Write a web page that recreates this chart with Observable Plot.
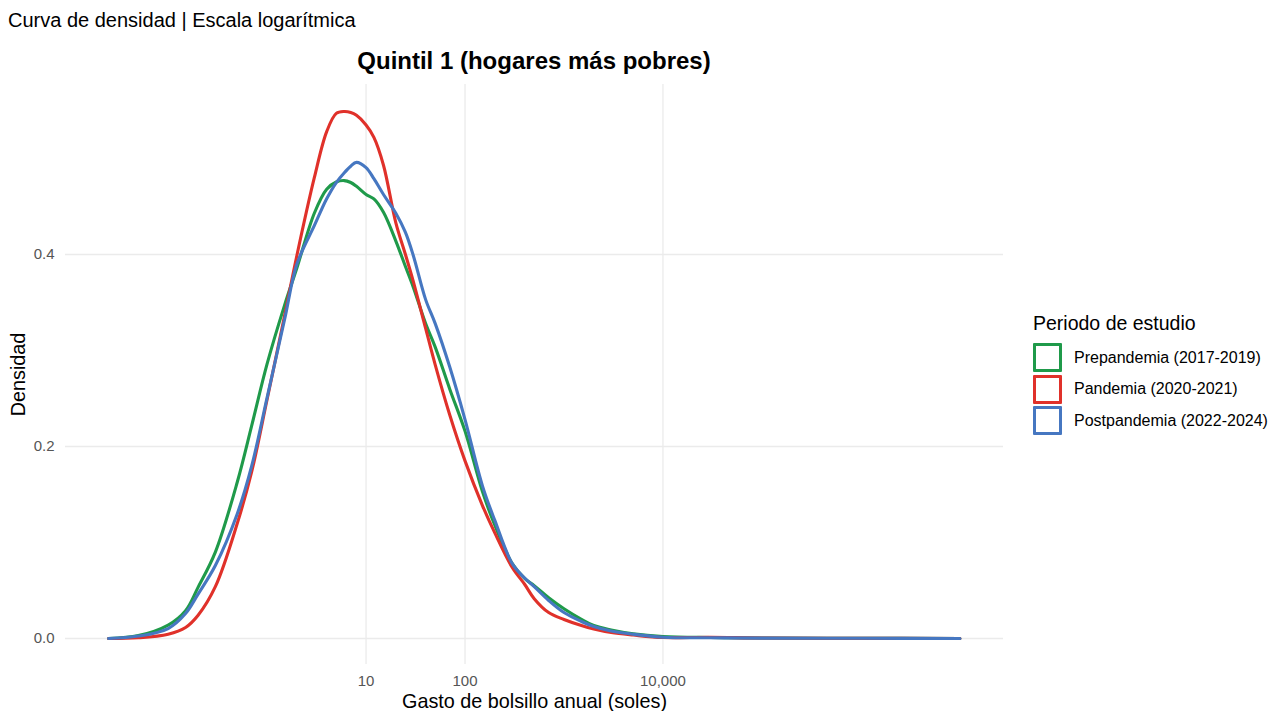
<!DOCTYPE html>
<html>
<head>
<meta charset="utf-8">
<script src="https://cdn.jsdelivr.net/npm/d3@7"></script>
<script src="https://cdn.jsdelivr.net/npm/@observablehq/plot@0.6"></script>
<style>
  html, body { margin: 0; padding: 0; background: #fff; }
  #wrap { position: relative; width: 1269px; height: 711px; font-family: "Liberation Sans", Arial, sans-serif; color: #000; }
  #sub { height: 40px; line-height: 40px; padding-left: 8px; font-size: 20px; }
  #title { height: 42px; line-height: 42px; margin-left: 65px; width: 938px; text-align: center; font-size: 24px; font-weight: bold; }
  #legend { position: absolute; left: 1033px; top: 311px; }
  #legend .lt { font-size: 19.5px; line-height: 24px; margin-bottom: 7px; }
  #legend .item { display: flex; align-items: center; height: 31.5px; }
  #legend .key { width: 23px; height: 23px; border: 3px solid; border-radius: 1px; margin-right: 12px; }
  #legend .lab { font-size: 16px; }
</style>
</head>
<body>
<div id="wrap">
  <div id="sub">Curva de densidad | Escala logarítmica</div>
  <div id="title">Quintil 1 (hogares más pobres)</div>
  <div id="chart"></div>
  <div id="legend"></div>
</div>
<script>
const periodos = ["Prepandemia (2017-2019)", "Pandemia (2020-2021)", "Postpandemia (2022-2024)"];
const colores = ["#1f9a4a", "#e0312a", "#4677c1"];
const xTicks = [10, 100, 10000];
const yTicks = [0, 0.2, 0.4];

// Gasto de bolsillo anual (soles)
const gasto = [0.025, 0.05, 0.1, 0.15, 0.2, 0.3, 0.5, 0.7, 1, 1.5, 2, 3, 4, 5, 6, 7, 8, 10, 12, 15, 20, 25, 30, 40, 50, 70, 100, 150, 200, 300, 400, 500, 700, 1000, 1500, 2000, 3000, 5000, 10000, 30000, 100000, 1000000, 10000000];

const densPre = [0, 0.003, 0.014, 0.029, 0.053, 0.090, 0.163, 0.222, 0.286, 0.347, 0.386, 0.443, 0.468, 0.4755, 0.477, 0.475, 0.471, 0.4625, 0.458, 0.444, 0.414, 0.3875, 0.366, 0.328, 0.3035, 0.260, 0.216, 0.153, 0.118, 0.078, 0.0625, 0.055, 0.0425, 0.031, 0.020, 0.0135, 0.0089, 0.0049, 0.0021, 0.0010, 0.0005, 0.0002, 0];
const densPan = [0, 0.0008, 0.0045, 0.0115, 0.024, 0.054, 0.120, 0.174, 0.249, 0.336, 0.399, 0.480, 0.528, 0.547, 0.549, 0.548, 0.545, 0.535, 0.522, 0.493, 0.433, 0.400, 0.372, 0.323, 0.285, 0.233, 0.185, 0.1385, 0.110, 0.074, 0.0565, 0.0415, 0.027, 0.0198, 0.0135, 0.0099, 0.0062, 0.0036, 0.0010, 0.0013, 0.0005, 0.0002, 0];
const densPost = [0, 0.0025, 0.0104, 0.026, 0.046, 0.076, 0.130, 0.180, 0.251, 0.332, 0.390, 0.430, 0.458, 0.475, 0.485, 0.492, 0.496, 0.4906, 0.479, 0.4625, 0.443, 0.423, 0.399, 0.353, 0.328, 0.283, 0.228, 0.159, 0.123, 0.078, 0.063, 0.054, 0.0396, 0.027, 0.0177, 0.0125, 0.0078, 0.0044, 0.0013, 0.0007, 0.0004, 0.0002, 0];

const series = [densPre, densPan, densPost];
const rows = periodos.flatMap((p, i) => gasto.map((g, j) => ({periodo: p, gasto: g, densidad: series[i][j]})));

const chart = Plot.plot({
  width: 1269,
  height: 629,
  marginTop: 2,
  marginBottom: 47,
  marginLeft: 65,
  marginRight: 266,
  style: {fontFamily: "Liberation Sans, Arial, sans-serif", background: "transparent"},
  x: {type: "log", domain: [Math.pow(10, -2.037), Math.pow(10, 7.441)]},
  y: {domain: [-0.0271, 0.5771]},
  color: {domain: periodos, range: colores},
  marks: [
    Plot.gridX({ticks: xTicks, stroke: "#ebebeb", strokeOpacity: 1, strokeWidth: 1.3}),
    Plot.gridY({ticks: yTicks, stroke: "#ebebeb", strokeOpacity: 1, strokeWidth: 1.3}),
    Plot.axisX({ticks: xTicks, tickFormat: d3.format(","), tickSize: 0, tickPadding: 11, label: null, fontSize: 15, fill: "#555"}),
    Plot.axisY({ticks: yTicks, tickFormat: d3.format(".1f"), tickSize: 0, tickPadding: 11, label: null, fontSize: 15, fill: "#555"}),
    Plot.line(rows, {x: "gasto", y: "densidad", stroke: "periodo", strokeWidth: 3.1, curve: "catmull-rom"}),
    Plot.text(["Gasto de bolsillo anual (soles)"], {text: d => d, frameAnchor: "bottom", lineAnchor: "middle", textAnchor: "middle", dy: 37, fontSize: 19.8, fill: "#000"}),
    Plot.text(["Densidad"], {text: d => d, frameAnchor: "left", lineAnchor: "middle", textAnchor: "middle", dx: -47, rotate: -90, fontSize: 19.8, fill: "#000"})
  ]
});
document.getElementById("chart").appendChild(chart);

const legend = document.getElementById("legend");
const lt = document.createElement("div");
lt.className = "lt";
lt.textContent = "Periodo de estudio";
legend.appendChild(lt);
periodos.forEach((p, i) => {
  const item = document.createElement("div");
  item.className = "item";
  const key = document.createElement("div");
  key.className = "key";
  key.style.borderColor = colores[i];
  const lab = document.createElement("span");
  lab.className = "lab";
  lab.textContent = p;
  item.appendChild(key);
  item.appendChild(lab);
  legend.appendChild(item);
});
</script>
</body>
</html>
